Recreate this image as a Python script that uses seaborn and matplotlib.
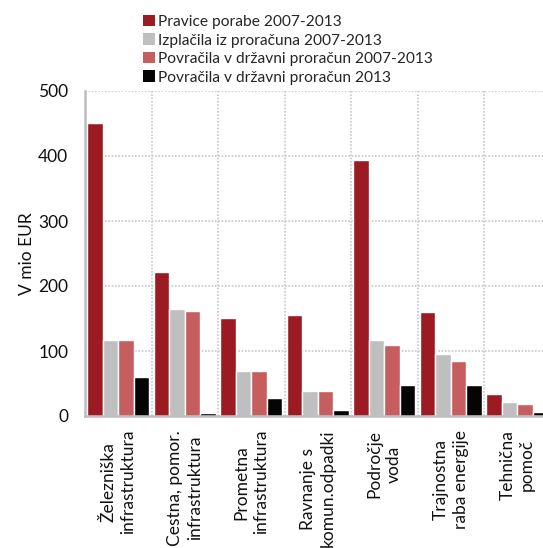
import pandas as pd
import matplotlib.pyplot as plt
import seaborn as sns
from matplotlib.patches import Patch
from matplotlib.ticker import FixedLocator

categories = ['Železniška\ninfrastruktura', 'Cestna, pomor.\ninfrastruktura',
              'Prometna\ninfrastruktura', 'Ravnanje s\nkomun.odpadki',
              'Področje\nvoda', 'Trajnostna\nraba energije', 'Tehnična\npomoč']
series = ['Pravice porabe 2007-2013', 'Izplačila iz proračuna 2007-2013',
          'Povračila v državni proračun 2007-2013', 'Povračila v državni proračun 2013']
pravice = [451, 222, 151, 156, 394, 160, 34]
izplacila = [117, 164, 70, 38, 117, 96, 21]
povracila = [117, 162, 70, 38, 110, 85, 19]
povracila_2013 = [60, 4, 28, 9, 47, 47, 6]
colors = ['#9c1b22', '#bfbfbf', '#c65d5f', '#050505']

rows = []
for name, vals in zip(series, [pravice, izplacila, povracila, povracila_2013]):
    for cat, v in zip(categories, vals):
        rows.append({'cat': cat, 'serija': name, 'val': v})
df = pd.DataFrame(rows)

sns.set_style('white')
plt.rcParams['font.family'] = ['Lato', 'DejaVu Sans']

fig = plt.figure(figsize=(5.43, 5.48), dpi=100)
ax = fig.add_axes([85 / 543, 132 / 548, 465.5 / 543, 325 / 548])

sns.barplot(data=df, x='cat', y='val', hue='serija', hue_order=series,
            palette=colors, width=0.93, edgecolor='white', linewidth=1.0,
            saturation=1, ax=ax, legend=False)

ax.set_xlim(-0.5, 6.5)
ax.set_ylim(0, 500)
ax.set_yticks([0, 100, 200, 300, 400, 500])
ax.xaxis.set_minor_locator(FixedLocator([0.5, 1.5, 2.5, 3.5, 4.5, 5.5]))
ax.grid(axis='y', which='major', color='#c8c8c8', linestyle=(0, (1, 1)), linewidth=1.2)
ax.grid(axis='x', which='minor', color='#c8c8c8', linestyle=(0, (1, 1)), linewidth=1.2)
ax.set_axisbelow(True)
ax.tick_params(axis='both', which='both', length=0, labelsize=12.5, colors='#111111')
ax.tick_params(axis='y', pad=12)
plt.setp(ax.get_xticklabels(), rotation=90, ha='center', va='top',
         multialignment='center', linespacing=1.3)
ax.tick_params(axis='x', pad=10)

for s in ['left', 'bottom']:
    ax.spines[s].set_color('#bdbdbd')
    ax.spines[s].set_linewidth(1.8)
ax.spines['top'].set_visible(False)
ax.spines['right'].set_visible(False)

ax.set_xlabel('')
ax.set_ylabel('V mio EUR', fontsize=12.5, color='#111111', labelpad=2)

handles = [Patch(facecolor=c, edgecolor='none') for c in colors]
fig.legend(handles, series, loc='upper left', bbox_to_anchor=(143 / 543, 1 - 15 / 548),
           frameon=False, fontsize=11.2, handlelength=0.75, handleheight=0.75,
           handletextpad=0.2, labelspacing=0.28, borderaxespad=0, borderpad=0)

fig.savefig('out.png', dpi=100)
